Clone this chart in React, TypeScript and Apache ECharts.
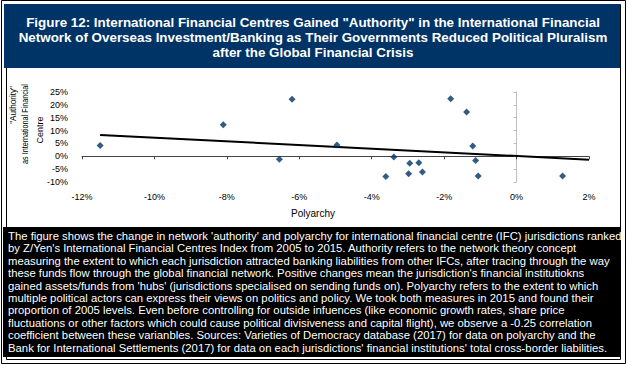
import React, { useEffect, useRef } from "react";
import * as echarts from "echarts";

const titleLines = [
  'Figure 12: International Financial Centres Gained "Authority" in the International Financial',
  "Network of Overseas Investment/Banking as Their Governments Reduced Political Pluralism",
  "after the Global Financial Crisis",
];

const noteLines = [
  "The figure shows the change in network 'authority' and polyarchy for international financial centre (IFC) jurisdictions ranked",
  "by Z/Yen's International Financial Centres Index from 2005 to 2015. Authority refers to the network theory concept",
  "measuring the extent to which each jurisdiction attracted banking liabilities from other IFCs, after tracing through the way",
  "these funds flow through the global financial network. Positive changes mean the jurisdiction's financial institutiokns",
  "gained assets/funds from 'hubs' (jurisdictions specialised on sending funds on). Polyarchy refers to the extent to which",
  "multiple political actors can express their views on politics and policy. We took both measures in 2015 and found their",
  "proportion of 2005 levels. Even before controlling for outside infuences (like economic growth rates, share price",
  "fluctuations or other factors which could cause political divisiveness and capital flight), we observe a -0.25 correlation",
  "coefficient between these varianbles. Sources: Varieties of Democracy database (2017) for data on polyarchy and the",
  "Bank for International Settlements (2017) for data on each jurisdictions' financial institutions' total cross-border liabilities.",
];

const yTitleLines = ['"Authority"', "as International Financial", "Centre"];
const xTitle = "Polyarchy";

// Polyarchy change (%) and Authority change (%)
const polyarchy = [-11.5, -8.1, -6.2, -6.55, -4.96, -3.39, -3.61, -2.95, -2.7, -2.98, -2.6, -1.82, -1.38, -1.21, -1.13, -1.06, 1.27];
const authority = [4.2, 12.3, 22.2, -1.2, 4.4, -0.3, -7.9, -2.7, -2.5, -6.8, -6.1, 22.4, 17.2, 4.0, -1.6, -7.7, -7.7];

const trendPolyarchy = [-11.5, 2];
const trendAuthority = [8.3, -1.3];

const xMin = -12;
const xMax = 2;
const xStep = 2;
const yMin = -10;
const yMax = 25;
const yStep = 5;

const FONT = "'Liberation Sans', Arial, sans-serif";

export default function App() {
  const ref = useRef<HTMLDivElement>(null);

  useEffect(() => {
    document.body.style.margin = "0";
    if (!ref.current) return;
    const chart = echarts.init(ref.current, undefined, { renderer: "svg" });

    const graphics: any[] = [
      { type: "rect", shape: { x: 1.5, y: 0.5, width: 624, height: 363 }, style: { fill: "#fff", stroke: "#000", lineWidth: 1 }, z: -10 },
      { type: "rect", shape: { x: 6.5, y: 4.5, width: 614, height: 355 }, style: { fill: "#fff", stroke: "#000", lineWidth: 1 }, z: -9 },
      { type: "rect", shape: { x: 4, y: 4, width: 616, height: 64 }, style: { fill: "#003366" }, z: -8 },
      { type: "rect", shape: { x: 3, y: 227, width: 618, height: 130 }, style: { fill: "#000" }, z: -8 },
    ];
    titleLines.forEach((t, i) => {
      graphics.push({
        type: "text",
        x: 313,
        y: 22 + i * 15,
        style: { text: t, fill: "#fff", font: `bold 13.4px ${FONT}`, align: "center", verticalAlign: "middle" },
      });
    });
    noteLines.forEach((t, i) => {
      graphics.push({
        type: "text",
        x: 8,
        y: 236 + i * 12.45,
        scaleX: 1.132,
        style: { text: t, fill: "#fff", font: `10px ${FONT}`, align: "left", verticalAlign: "middle" },
      });
    });
    const yTitlePos = [
      [13, 105],
      [25, 124],
      [40, 130],
    ];
    const yTitleScale = [0.9, 0.8, 1];
    yTitleLines.forEach((t, i) => {
      graphics.push({
        type: "text",
        x: yTitlePos[i][0],
        y: yTitlePos[i][1],
        rotation: Math.PI / 2,
        scaleX: yTitleScale[i],
        style: { text: t, fill: "#000", font: `9px ${FONT}`, align: "center", verticalAlign: "middle" },
      });
    });
    graphics.push({
      type: "text",
      x: 313,
      y: 213,
      style: { text: xTitle, fill: "#000", font: `10px ${FONT}`, align: "center", verticalAlign: "middle" },
    });

    const labelStyle = { color: "#000", fontSize: 9, fontFamily: FONT };

    chart.setOption({
      animation: false,
      backgroundColor: "transparent",
      grid: { left: 82, right: 39, top: 92, bottom: 183, containLabel: false },
      graphic: graphics,
      xAxis: [
        {
          type: "value", min: xMin, max: xMax, interval: xStep, position: "bottom",
          axisLine: { show: false, onZero: false }, axisTick: { show: false }, splitLine: { show: false },
          axisLabel: { ...labelStyle, margin: 10, formatter: (v: number) => `${v}%` },
        },
        {
          type: "value", min: xMin, max: xMax, interval: xStep, position: "bottom",
          axisLine: { show: true, onZero: true, onZeroAxisIndex: 0, lineStyle: { color: "#444", width: 1 } },
          axisTick: { show: true, length: 3, lineStyle: { color: "#444" } },
          splitLine: { show: false }, axisLabel: { show: false },
        },
      ],
      yAxis: [
        {
          type: "value", min: yMin, max: yMax, interval: yStep, position: "left",
          axisLine: { show: false, onZero: false }, axisTick: { show: false }, splitLine: { show: false },
          axisLabel: { ...labelStyle, margin: 14, formatter: (v: number) => `${v}%` },
        },
        {
          type: "value", min: yMin, max: yMax, interval: yStep, position: "left",
          axisLine: { show: true, onZero: true, onZeroAxisIndex: 0, lineStyle: { color: "#c0c0c0", width: 1 } },
          axisTick: { show: true, length: 3, lineStyle: { color: "#c0c0c0" } },
          splitLine: { show: false }, axisLabel: { show: false },
        },
      ],
      series: [
        {
          type: "line",
          xAxisIndex: 0, yAxisIndex: 0,
          data: trendPolyarchy.map((x, i) => [x, trendAuthority[i]]),
          showSymbol: false, symbol: "none",
          lineStyle: { color: "#000", width: 2 },
          z: 3,
        },
        {
          type: "scatter",
          xAxisIndex: 0, yAxisIndex: 0,
          data: polyarchy.map((x, i) => [x, authority[i]]),
          symbol: "diamond", symbolSize: 7,
          itemStyle: { color: "#003366" },
          z: 4,
        },
      ],
    });
    return () => chart.dispose();
  }, []);

  return <div ref={ref} style={{ width: 628, height: 365 }} />;
}
